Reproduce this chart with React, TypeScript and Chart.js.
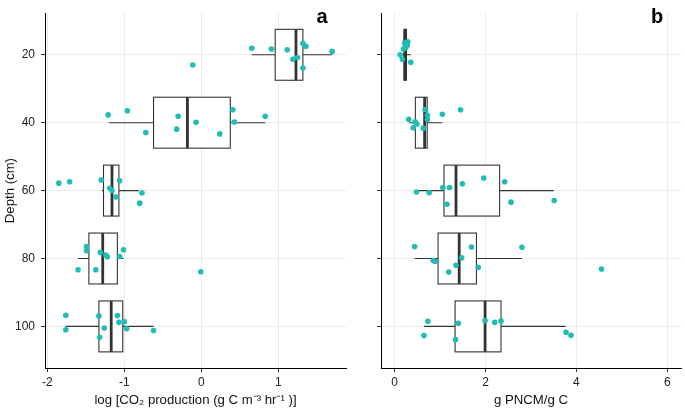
import React, { useEffect, useRef } from "react";
import { Chart, registerables } from "chart.js";
Chart.register(...registerables);

const depths = [20, 40, 60, 80, 100];
const depthTicks = [20, 40, 60, 80, 100];

// Panel a: log CO2 production
const aTicks = [-2, -1, 0, 1];
const aQ1 = [0.96, -0.62, -1.27, -1.46, -1.33];
const aMed = [1.23, -0.18, -1.16, -1.28, -1.17];
const aQ3 = [1.32, 0.377, -1.07, -1.09, -1.02];
const aLo = [0.656, -1.2, -1.29, -1.6, -1.76];
const aHi = [1.7, 0.83, -0.81, -1.01, -0.62];
const aPointX = [
  0.656, 0.91, 1.116, 1.32, 1.36, 1.7, 1.25, 1.19, 1.32, -0.11,
  -1.21, -0.96, -0.72, -0.3, -0.32, -0.067, 0.24, 0.41, 0.43, 0.83,
  -1.85, -1.71, -1.3, -1.06, -1.19, -1.16, -1.11, -0.77, -0.8,
  -1.49, -1.49, -1.31, -1.24, -1.22, -1.01, -1.06, -1.6, -1.37, -0.006,
  -1.76, -1.76, -1.33, -1.26, -1.32, -1.09, -1.07, -1.0, -0.97, -0.62,
];
const aPointDepth = [
  18.1, 18.3, 18.5, 16.6, 17.5, 19.0, 20.8, 21.3, 23.9, 23.0,
  37.7, 36.5, 42.9, 38.1, 41.9, 39.9, 43.3, 36.2, 39.8, 38.1,
  57.8, 57.4, 56.9, 57.1, 59.3, 60.0, 61.9, 60.7, 63.7,
  76.5, 77.7, 78.2, 79.0, 79.5, 77.4, 79.4, 83.3, 83.3, 83.9,
  96.7, 101.0, 96.9, 100.5, 103.2, 96.8, 98.8, 98.6, 100.7, 101.2,
];

// Panel b: g PNCM / g C
const bTicks = [0, 2, 4, 6];
const bQ1 = [0.205, 0.456, 1.085, 0.955, 1.33];
const bMed = [0.23, 0.66, 1.35, 1.42, 1.99];
const bQ3 = [0.26, 0.716, 2.31, 1.8, 2.34];
const bLo = [0.11, 0.32, 0.48, 0.44, 0.645];
const bHi = [0.355, 1.05, 3.5, 2.8, 3.76];
const bPointX = [
  0.22, 0.29, 0.28, 0.195, 0.12, 0.17, 0.355, 0.25,
  0.31, 0.45, 0.49, 0.41, 0.63, 0.67, 0.72, 0.72, 1.05, 1.45,
  0.48, 0.76, 1.06, 1.21, 1.15, 1.49, 1.96, 2.42, 2.56, 3.51,
  0.44, 1.69, 2.8, 0.85, 0.89, 1.475, 1.35, 1.84, 1.19, 4.55,
  0.73, 0.645, 1.4, 1.34, 1.99, 2.2, 2.34, 3.77, 3.88,
];
const bPointDepth = [
  16.5, 16.2, 17.1, 18.3, 20.0, 21.3, 22.2, 17.8,
  39.0, 39.7, 40.4, 41.5, 41.6, 36.1, 37.8, 39.0, 37.5, 36.2,
  60.4, 60.6, 59.1, 59.1, 64.0, 58.0, 56.3, 57.4, 63.4, 62.9,
  76.5, 76.6, 76.7, 80.6, 80.8, 79.8, 82.0, 82.6, 84.0, 83.1,
  98.5, 102.7, 99.1, 103.9, 98.3, 98.8, 98.4, 101.7, 102.6,
];

const FONT = "'Liberation Sans', Arial, sans-serif";
const POINT_COLOR = "#20bdb5";
const DARK = "#333333";

type Stats = { q1: number[]; med: number[]; q3: number[]; lo: number[]; hi: number[] };

function makeBoxPlugin(stats: Stats, label: string) {
  return {
    id: "boxes_" + label,
    beforeDatasetsDraw(chart: any) {
      const { ctx } = chart;
      const xs = chart.scales.x;
      const ys = chart.scales.y;
      ctx.save();
      depths.forEach((d, i) => {
        const yc = ys.getPixelForValue(d);
        const ya = ys.getPixelForValue(d - 7.5);
        const yb = ys.getPixelForValue(d + 7.5);
        const top = Math.min(ya, yb);
        const h = Math.abs(yb - ya);
        const x1 = xs.getPixelForValue(stats.q1[i]);
        const x3 = xs.getPixelForValue(stats.q3[i]);
        const xm = xs.getPixelForValue(stats.med[i]);
        const xl = xs.getPixelForValue(stats.lo[i]);
        const xh = xs.getPixelForValue(stats.hi[i]);
        ctx.strokeStyle = DARK;
        ctx.lineWidth = 1.1;
        ctx.beginPath();
        ctx.moveTo(xl, yc);
        ctx.lineTo(x1, yc);
        ctx.moveTo(x3, yc);
        ctx.lineTo(xh, yc);
        ctx.stroke();
        ctx.fillStyle = "#ffffff";
        ctx.fillRect(x1, top, x3 - x1, h);
        ctx.strokeRect(x1, top, x3 - x1, h);
        ctx.lineWidth = 2.8;
        ctx.beginPath();
        ctx.moveTo(xm, top);
        ctx.lineTo(xm, top + h);
        ctx.stroke();
      });
      ctx.restore();
    },
    afterDraw(chart: any) {
      const { ctx, chartArea } = chart;
      ctx.save();
      ctx.font = "bold 20px " + FONT;
      ctx.fillStyle = "#000";
      ctx.textAlign = "center";
      ctx.textBaseline = "alphabetic";
      ctx.fillText(label, chartArea.right - 24, chartArea.top + 10);
      ctx.restore();
    },
  };
}

function buildConfig(opts: {
  px: number[];
  py: number[];
  stats: Stats;
  label: string;
  xmin: number;
  xmax: number;
  xticks: number[];
  xtitle: string;
  yWidth: number;
  showY: boolean;
  rightPad: number;
}): any {
  return {
    type: "scatter",
    data: {
      datasets: [
        {
          data: opts.px.map((x, i) => ({ x, y: opts.py[i] })),
          backgroundColor: POINT_COLOR,
          borderWidth: 0,
          pointRadius: 2.8,
        },
      ],
    },
    options: {
      animation: false,
      responsive: false,
      layout: { padding: { top: 5, right: opts.rightPad, left: 0, bottom: 0 } },
      plugins: { legend: { display: false }, tooltip: { enabled: false } },
      scales: {
        x: {
          type: "linear",
          min: opts.xmin,
          max: opts.xmax,
          afterBuildTicks: (s: any) => {
            s.ticks = opts.xticks.map((v) => ({ value: v }));
          },
          afterFit: (s: any) => {
            s.height = 44;
          },
          grid: { color: "#ebebeb", lineWidth: 1, tickLength: 4, tickColor: DARK, tickWidth: 1 },
          border: { color: "#000", width: 1 },
          ticks: {
            font: { family: FONT, size: 12 },
            color: "#222",
            padding: 3,
            maxRotation: 0,
            callback: (v: any) => String(v),
          },
          title: {
            display: true,
            text: opts.xtitle,
            font: { family: FONT, size: 13.2 },
            color: "#111",
            padding: { top: 0, bottom: 4 },
          },
        },
        y: {
          type: "linear",
          reverse: true,
          min: 7.75,
          max: 112.25,
          afterBuildTicks: (s: any) => {
            s.ticks = depthTicks.map((v) => ({ value: v }));
          },
          afterFit: (s: any) => {
            s.width = opts.yWidth;
          },
          grid: { color: "#ebebeb", lineWidth: 1, tickLength: 4, tickColor: DARK, tickWidth: 1 },
          border: { color: "#000", width: 1 },
          ticks: {
            font: { family: FONT, size: 12 },
            color: "#222",
            padding: 6,
            callback: (v: any) => (opts.showY ? String(v) : ""),
          },
          title: {
            display: opts.showY,
            text: "Depth (cm)",
            font: { family: FONT, size: 13.2 },
            color: "#111",
            padding: { top: 2, bottom: 0 },
          },
        },
      },
    },
    plugins: [makeBoxPlugin(opts.stats, opts.label)],
  };
}

export default function App() {
  const refA = useRef<HTMLCanvasElement | null>(null);
  const refB = useRef<HTMLCanvasElement | null>(null);

  useEffect(() => {
    const chartA = new Chart(
      refA.current as HTMLCanvasElement,
      buildConfig({
        px: aPointX,
        py: aPointDepth,
        stats: { q1: aQ1, med: aMed, q3: aQ3, lo: aLo, hi: aHi },
        label: "a",
        xmin: -2.03,
        xmax: 1.88,
        xticks: aTicks,
        xtitle: "log [CO₂ production (g C m⁻³ hr⁻¹ )]",
        yWidth: 45,
        showY: true,
        rightPad: 3,
      })
    );
    const chartB = new Chart(
      refB.current as HTMLCanvasElement,
      buildConfig({
        px: bPointX,
        py: bPointDepth,
        stats: { q1: bQ1, med: bMed, q3: bQ3, lo: bLo, hi: bHi },
        label: "b",
        xmin: -0.3,
        xmax: 6.3,
        xticks: bTicks,
        xtitle: "g PNCM/g C",
        yWidth: 31,
        showY: false,
        rightPad: 1,
      })
    );
    return () => {
      chartA.destroy();
      chartB.destroy();
    };
  }, []);

  return (
    <div style={{ position: "fixed", left: 0, top: 0, width: 685, height: 412, background: "#fff" }}>
      <canvas ref={refA} width={350} height={412} style={{ position: "absolute", left: 0, top: 0 }} />
      <canvas ref={refB} width={335} height={412} style={{ position: "absolute", left: 350, top: 0 }} />
    </div>
  );
}
